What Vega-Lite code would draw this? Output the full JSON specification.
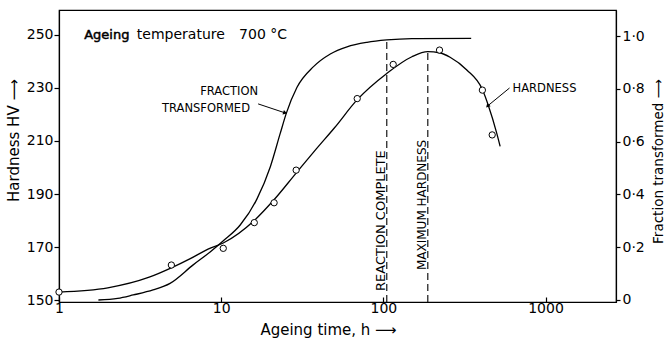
{
  "$schema": "https://vega.github.io/schema/vega-lite/v6.json",
  "width": 557,
  "height": 292,
  "autosize": {"type": "none"},
  "padding": {"left": 59, "top": 10, "right": 50, "bottom": 38},
  "background": "white",
  "config": {
    "view": {"stroke": "black", "strokeWidth": 1.2},
    "font": "DejaVu Sans",
    "axis": {
      "domainColor": "black", "tickColor": "black", "labelColor": "black", "titleColor": "black",
      "labelFont": "DejaVu Sans", "titleFont": "DejaVu Sans", "labelFontSize": 14, "titleFontSize": 15,
      "titleFontWeight": "normal", "grid": false, "domainWidth": 1.2, "tickWidth": 1.2,
      "labelFlush": false, "labelOverlap": false
    }
  },
  "datasets": {
    "hardnessCurve": [
      {"t": 1, "hv": 153}, {"t": 2, "hv": 154.6}, {"t": 3.6, "hv": 158.6}, {"t": 5, "hv": 162.3},
      {"t": 6.45, "hv": 165.6}, {"t": 8.3, "hv": 169.2}, {"t": 10.3, "hv": 171.5}, {"t": 16, "hv": 180},
      {"t": 21.3, "hv": 188}, {"t": 28.9, "hv": 197.8}, {"t": 38.6, "hv": 207}, {"t": 50, "hv": 215},
      {"t": 68.8, "hv": 225.5}, {"t": 105, "hv": 235.5}, {"t": 150, "hv": 241.8}, {"t": 188, "hv": 243.7},
      {"t": 222, "hv": 243.3}, {"t": 258, "hv": 241.6}, {"t": 327, "hv": 236.8}, {"t": 408, "hv": 229.4},
      {"t": 444, "hv": 223.4}, {"t": 500, "hv": 213}, {"t": 525, "hv": 208}
    ],
    "hardnessPts": [
      {"t": 1, "hv": 153}, {"t": 4.93, "hv": 163.2}, {"t": 10.3, "hv": 169.5}, {"t": 16, "hv": 179.2},
      {"t": 21.2, "hv": 186.7}, {"t": 29, "hv": 199}, {"t": 69, "hv": 226}, {"t": 115, "hv": 238.9},
      {"t": 222, "hv": 244.3}, {"t": 408, "hv": 229.2}, {"t": 469, "hv": 212.3}
    ],
    "fractionCurve": [
      {"t": 1.75, "f": 0}, {"t": 2.3, "f": 0.006}, {"t": 2.87, "f": 0.019}, {"t": 3.8, "f": 0.038},
      {"t": 4.84, "f": 0.063}, {"t": 6.72, "f": 0.133}, {"t": 8.55, "f": 0.182}, {"t": 10.27, "f": 0.2235},
      {"t": 13.1, "f": 0.284}, {"t": 16.6, "f": 0.382}, {"t": 20.1, "f": 0.505}, {"t": 23.1, "f": 0.63},
      {"t": 25.2, "f": 0.707}, {"t": 29.3, "f": 0.805}, {"t": 37.1, "f": 0.884}, {"t": 47.1, "f": 0.932},
      {"t": 59.7, "f": 0.959}, {"t": 79.3, "f": 0.976}, {"t": 105, "f": 0.985}, {"t": 150, "f": 0.99},
      {"t": 348, "f": 0.991}
    ],
    "markers": [
      {"t": 105, "hv": 149.25, "hv2": 248.1},
      {"t": 188, "hv": 149.25, "hv2": 243.7}
    ],
    "arrows": [
      {"t": 16.9, "hv": 224, "t2": 24.8, "hv2": 220.6, "ang": 108},
      {"t": 600, "hv": 230, "t2": 439, "hv2": 223.2, "ang": 225}
    ]
  },
  "encoding": {
    "x": {
      "field": "t", "type": "quantitative",
      "scale": {"type": "log", "domain": [1, 2720], "nice": false},
      "axis": {
        "values": [1, 10, 100, 1000], "labelExpr": "format(datum.value, 'd')",
        "tickSize": -5, "labelPadding": 4,
        "title": "Ageing time, h  ⟶", "titleX": 269, "titleY": 32,
        "titleAnchor": "start", "titleAlign": "center", "titleBaseline": "alphabetic"
      }
    }
  },
  "layer": [
    {
      "encoding": {
        "y": {
          "field": "hv", "type": "quantitative",
          "scale": {"domain": [149.25, 259.43], "nice": false, "zero": false},
          "axis": {
            "values": [150, 170, 190, 210, 230, 250], "tickSize": 5, "labelPadding": 1,
            "title": "Hardness  HV   ⟶", "titleAngle": 270, "titleX": -46, "titleY": 130,
            "titleAlign": "center", "titleBaseline": "middle", "titleAnchor": "start"
          }
        }
      },
      "layer": [
        {
          "data": {"name": "markers"},
          "mark": {"type": "rule", "strokeDash": [7, 4], "color": "black", "strokeWidth": 1.1},
          "encoding": {"y2": {"field": "hv2"}}
        },
        {
          "data": {"name": "hardnessCurve"},
          "mark": {"type": "line", "interpolate": "monotone", "color": "black", "strokeWidth": 1.3}
        },
        {
          "data": {"name": "hardnessPts"},
          "mark": {"type": "point", "shape": "circle", "filled": true, "fill": "white", "stroke": "black", "strokeWidth": 1, "size": 40, "opacity": 1, "clip": false}
        },
        {
          "data": {"name": "arrows"},
          "mark": {"type": "rule", "color": "black", "strokeWidth": 1},
          "encoding": {"x2": {"field": "t2"}, "y2": {"field": "hv2"}}
        },
        {
          "data": {"name": "arrows"},
          "mark": {"type": "point", "shape": "triangle-up", "filled": true, "color": "black", "size": 22, "opacity": 1},
          "encoding": {
            "x": {"field": "t2", "type": "quantitative"},
            "y": {"field": "hv2", "type": "quantitative"},
            "angle": {"field": "ang", "type": "quantitative", "scale": null}
          }
        },
        {
          "data": {"values": [
            {"t": 1.43, "hv": 248.3, "txt": "Ageing"}
          ]},
          "mark": {"type": "text", "align": "left", "baseline": "alphabetic", "fontSize": 13, "color": "black", "stroke": "black", "strokeWidth": 0.5},
          "encoding": {"text": {"field": "txt"}}
        },
        {
          "data": {"values": [
            {"t": 3.02, "hv": 248.3, "txt": "temperature"},
            {"t": 12.9, "hv": 248.3, "txt": "700 °C"}
          ]},
          "mark": {"type": "text", "align": "left", "baseline": "alphabetic", "fontSize": 14, "color": "black"},
          "encoding": {"text": {"field": "txt"}}
        },
        {
          "data": {"values": [
            {"t": 11.2, "hv": 227.4, "txt": "FRACTION"},
            {"t": 8.06, "hv": 220.9, "txt": "TRANSFORMED"},
            {"t": 986, "hv": 228.6, "txt": "HARDNESS"}
          ]},
          "mark": {"type": "text", "align": "center", "baseline": "alphabetic", "fontSize": 11.5, "color": "black"},
          "encoding": {"text": {"field": "txt"}}
        },
        {
          "data": {"values": [
            {"t": 102.9, "hv": 153.4, "txt": "REACTION  COMPLETE", "fs": 13},
            {"t": 182, "hv": 161.3, "txt": "MAXIMUM  HARDNESS", "fs": 12}
          ]},
          "mark": {"type": "text", "align": "left", "baseline": "alphabetic", "angle": 270, "color": "black"},
          "encoding": {
            "text": {"field": "txt"},
            "size": {"field": "fs", "type": "quantitative", "scale": null}
          }
        }
      ]
    },
    {
      "data": {"name": "fractionCurve"},
      "mark": {"type": "line", "interpolate": "monotone", "color": "black", "strokeWidth": 1.3},
      "encoding": {
        "y": {
          "field": "f", "type": "quantitative",
          "scale": {"domain": [-0.0076, 1.0985], "nice": false, "zero": false},
          "axis": {
            "orient": "right", "values": [0, 0.2, 0.4, 0.6, 0.8, 1.0],
            "labelExpr": "datum.value == 0 ? '0' : replace(format(datum.value, '.1f'), '.', '·')",
            "tickSize": 4, "labelPadding": 2, "titleFontSize": 13.5,
            "title": "Fraction  transformed  ⟶", "titleAngle": 270, "titleX": 42, "titleY": 151,
            "titleAlign": "center", "titleBaseline": "middle", "titleAnchor": "start"
          }
        }
      }
    }
  ],
  "resolve": {"scale": {"y": "independent"}}
}
